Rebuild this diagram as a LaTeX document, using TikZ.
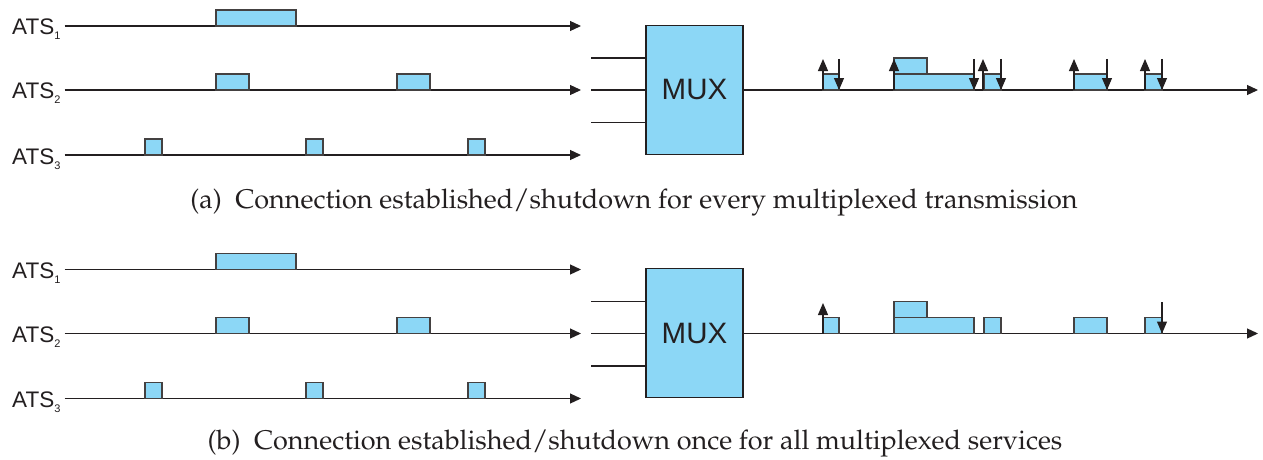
\documentclass[tikz,border=0pt]{standalone}
\usepackage[T1]{fontenc}
\usepackage{fontspec}
\setsansfont{Liberation Sans}
\usepackage{tikz}
\usetikzlibrary{positioning, calc}
\usetikzlibrary{arrows.meta}

\definecolor{ink}{RGB}{35,31,32}
\definecolor{cellblue}{RGB}{140,215,246}

% caption face (Palatino) and the small index of the ATS labels
\newcommand{\capfont}{\fontencoding{T1}\fontfamily{ppl}\selectfont}
\newcommand{\atsidx}[1]{\raisebox{-5pt}{\fontsize{11}{11}\selectfont #1}}

\tikzset{
  axis/.style={draw=ink, line width=1.2pt, -{Triangle[length=11pt,width=10pt]}},
  wire/.style={draw=ink, line width=1.2pt},
  pulse/.style={draw=ink!85, fill=cellblue, line width=1.3pt},
  sig/.style={draw=ink, line width=1.2pt, -{Triangle[length=12pt,width=10pt]}},
  atslabel/.style={inner sep=0pt, font=\sffamily\fontsize{22.5}{24}\selectfont, text=ink},
  muxbox/.style={draw=ink, fill=cellblue, line width=1.3pt, minimum width=97pt,
    minimum height=129pt, inner sep=0pt, font=\sffamily\fontsize{29.5}{30}\selectfont, text=ink},
  caption/.style={inner sep=0pt, font=\capfont\fontsize{27}{29}\selectfont, text=ink}
}

\begin{document}
\begin{tikzpicture}[x=1pt, y=-1pt]

% Manually size the picture
\useasboundingbox (0,0) rectangle (1263,460);

\foreach \p/\dy in {a/0, b/243.5} {
\begin{scope}[shift={(0,\dy)}]

% ATS time lines
\foreach \i/\y in {1/26, 2/90, 3/155} {
  \node[atslabel, anchor=base west] (ats\i\p) at (12,\y+9) {ATS\atsidx{\i}};
  \coordinate (end\i\p) at (581,\y);
  \draw[axis] ([xshift=4pt]ats\i\p.east |- end\i\p) -- (end\i\p);
}

% Cells of ATS 1
\draw[pulse] (216,10) rectangle (296,26);

% Cells of ATS 2
\draw[pulse] (216,74) rectangle (249,90);
\draw[pulse] (397,74) rectangle (430,90);

% Cells of ATS 3
\draw[pulse] (145,139) rectangle (162,155);
\draw[pulse] (306,139) rectangle (323,155);
\draw[pulse] (468,139) rectangle (485,155);

% Multiplexer with its inputs
\node[muxbox] (mux\p) at (694.5,89.7) {MUX};
\foreach \y in {58, 90, 122.5}
  \draw[wire] (591,\y) -- (mux\p.west |- 591,\y);

% Multiplexed output line
\coordinate (out\p) at (1258,90);
\draw[axis] (mux\p.east |- out\p) -- (out\p);

% Multiplexed cells
\draw[pulse] (823,74) rectangle (839,90);
\draw[pulse] (894,58) rectangle (927,74);
\draw[pulse] (894,74) rectangle (974,90);
\draw[pulse] (984,74) rectangle (1001,90);
\draw[pulse] (1074,74) rectangle (1107,90);
\draw[pulse] (1145,74) rectangle (1162,90);

\end{scope}
}

% (a) establish / shutdown around every cell
\foreach \x in {823, 894, 983, 1074, 1145}
  \draw[sig] (\x,90) -- (\x,59);
\foreach \x in {839, 974, 1001, 1107, 1162}
  \draw[sig] (\x,59) -- (\x,90);

% (b) establish once, shutdown once
\draw[sig] (823,333.5) -- (823,303);
\draw[sig] (1162,302) -- (1162,333.5);

% Captions
\node[caption, anchor=base] (capa) at (634,208)
  {(a)\enspace Connection established/shutdown for every multiplexed transmission};
\node[caption, anchor=base] (capb) at (635,449)
  {(b)\enspace Connection established/shutdown once for all multiplexed services};

\end{tikzpicture}
\end{document}
